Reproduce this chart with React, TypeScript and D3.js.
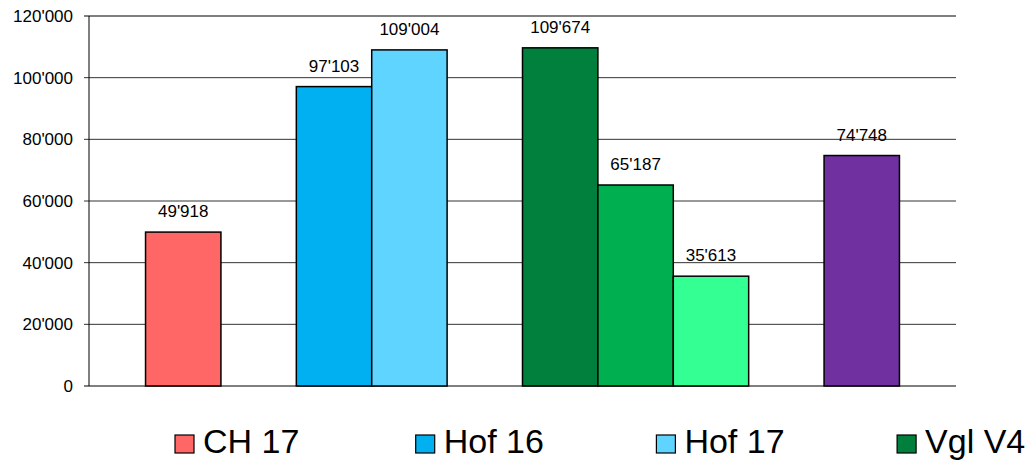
import React from "react";
import * as d3 from "d3";

const seriesNames = ["CH 17", "Hof 16", "Hof 17", "Vgl V4", "Vgl V5", "Vgl V6", "Vgl V7"];
const seriesValues = [49918, 97103, 109004, 109674, 65187, 35613, 74748];
const seriesSlots = [0, 2, 3, 5, 6, 7, 9];
const seriesColors = ["#FF6666", "#00B0F0", "#5FD4FF", "#00803C", "#00B050", "#33FF92", "#7030A0"];
const yTicks = [0, 20000, 40000, 60000, 80000, 100000, 120000];
const slotCount = 10;

const W = 1031;
const H = 463;
const margin = { left: 89, right: 75, top: 16, bottom: 77 };

const locale = d3.formatLocale({ decimal: ".", thousands: "'", grouping: [3], currency: ["", ""] });
const fmt = locale.format(",d");

export default function App() {
  const x = d3
    .scaleBand<number>()
    .domain(d3.range(slotCount))
    .range([margin.left, W - margin.right])
    .paddingInner(0)
    .paddingOuter(0.75);
  const y = d3.scaleLinear().domain([0, 120000]).range([H - margin.bottom, margin.top]);
  const font = "'Liberation Sans', Arial, sans-serif";
  const legendStart = 175;
  const legendStep = 240.7;

  return (
    <svg width={W} height={H} style={{ position: "absolute", left: 0, top: 0, background: "#fff" }} fontFamily={font}>
      {yTicks.map((t) => (
        <g key={t}>
          <line x1={margin.left - 5} x2={W - margin.right} y1={y(t)} y2={y(t)} stroke={t === 120000 || t === 0 ? "#000" : "#333"} strokeWidth={1} />
          <text x={73} y={y(t)} dy="0.36em" textAnchor="end" fontSize={17} fill="#000">
            {fmt(t)}
          </text>
        </g>
      ))}
      <line x1={margin.left} x2={margin.left} y1={y(120000)} y2={y(0)} stroke="#000" strokeWidth={1} />
      {seriesValues.map((v, i) => {
        const x0 = x(seriesSlots[i])!;
        const bw = x.bandwidth();
        return (
          <g key={i}>
            <rect x={x0} y={y(v)} width={bw} height={y(0) - y(v)} fill={seriesColors[i]} stroke="#000" strokeWidth={1.5} />
            <text x={x0 + bw / 2} y={y(v) - 15} textAnchor="middle" fontSize={17} fill="#000">
              {fmt(v)}
            </text>
          </g>
        );
      })}
      {seriesNames.map((name, i) => {
        const mx = legendStart + i * legendStep;
        if (mx > W) return null;
        return (
          <g key={name}>
            <rect x={mx} y={435} width={19} height={18} fill={seriesColors[i]} stroke="#000" strokeWidth={1.2} />
            <text x={mx + 28} y={453} fontSize={34} fill="#000">
              {name}
            </text>
          </g>
        );
      })}
    </svg>
  );
}
